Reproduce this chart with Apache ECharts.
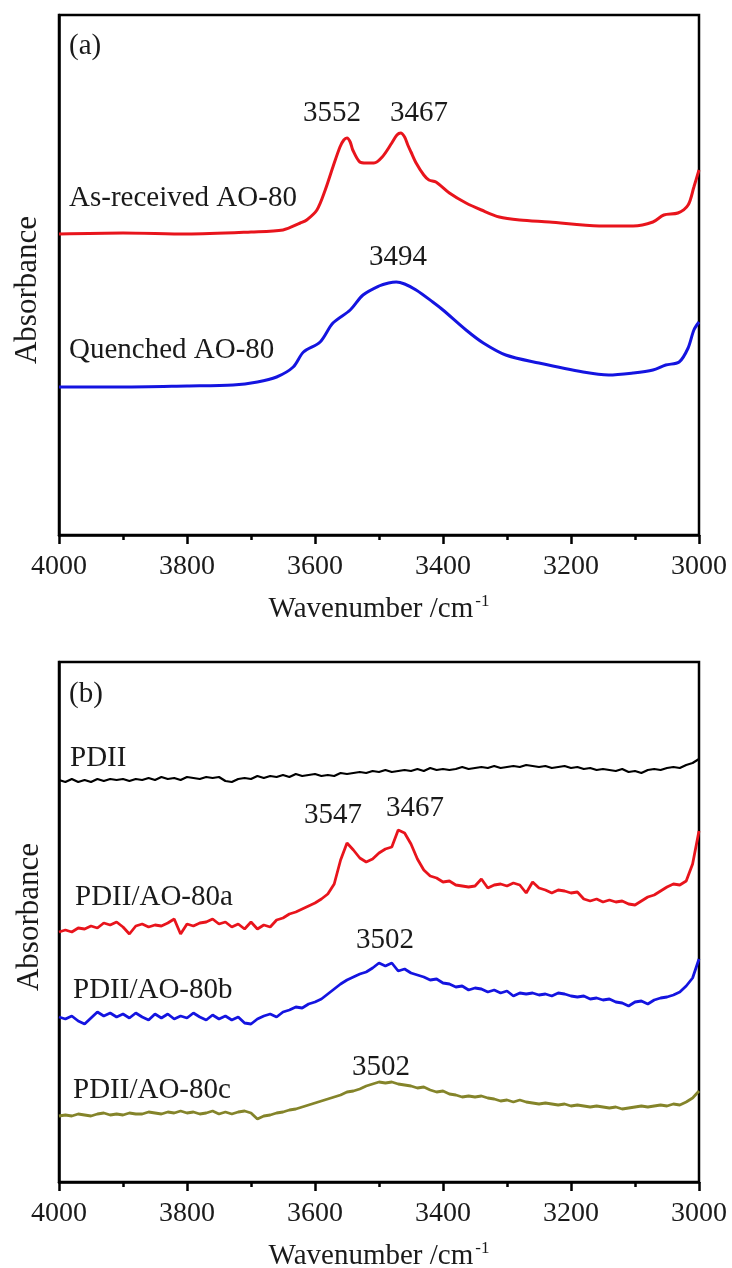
<!DOCTYPE html>
<html><head><meta charset="utf-8">
<script src="https://cdn.jsdelivr.net/npm/echarts@6/dist/echarts.min.js"></script>
<style>html,body{margin:0;padding:0;background:#fff}#c{width:732px;height:1268px}</style>
</head><body><div id="c"></div>
<script>
// ---------- Panel (a) data: [wavenumber cm-1, absorbance a.u.] ----------
const asReceivedWn = [4000,3900,3800,3700,3650,3623,3613,3597,3584,3572,3561,3555,3550,3545,3541,3530,3520,3508,3495,3480,3472,3466,3460,3455,3450,3442,3430,3422,3411,3390,3364,3340,3312,3280,3234,3156,3103,3072,3055,3033,3017,3008,3000];
const asReceivedAbs = [30.1,30.2,30.1,30.3,30.5,31.2,31.5,32.5,34.5,36.8,38.8,39.5,39.7,39.3,38.5,37.3,37.2,37.2,37.8,39.2,40.0,40.2,39.8,39.0,38.3,37.2,36.0,35.5,35.3,34.2,33.2,32.5,31.8,31.5,31.3,30.9,30.9,31.3,32.0,32.2,33.0,34.8,36.5];
const quenchedWn = [4000,3900,3800,3728,3690,3660,3634,3618,3592,3572,3545,3525,3500,3485,3473,3460,3442,3416,3400,3364,3337,3302,3250,3181,3141,3103,3072,3052,3031,3017,3008,3000];
const quenchedAbs = [14.8,14.8,14.9,15.0,15.3,15.8,16.8,18.3,19.3,21.2,22.5,24.0,24.9,25.2,25.3,25.1,24.5,23.3,22.5,20.5,19.2,18.0,17.2,16.3,16.0,16.2,16.5,17.0,17.3,18.7,20.5,21.3];

// ---------- Panel (b) data: sampled every 10 cm-1 from 4000 to 3000 ----------
const pdiiAbs = [40.2,40.0,40.3,40.0,40.2,40.0,40.3,40.1,40.3,40.2,
 40.3,40.1,40.3,40.2,40.4,40.2,40.5,40.3,40.4,40.2,
 40.5,40.4,40.3,40.5,40.4,40.5,40.1,40.0,40.3,40.4,
 40.3,40.6,40.4,40.6,40.5,40.7,40.5,40.8,40.6,40.7,
 40.8,40.6,40.7,40.6,40.9,40.8,40.9,41.0,40.9,41.1,
 41.0,41.2,41.0,41.1,41.2,41.1,41.3,41.1,41.4,41.2,
 41.3,41.2,41.3,41.5,41.3,41.4,41.5,41.4,41.6,41.4,
 41.5,41.6,41.5,41.7,41.6,41.5,41.6,41.4,41.5,41.6,
 41.4,41.5,41.3,41.4,41.2,41.3,41.2,41.1,41.3,41.0,
 41.1,40.9,41.2,41.3,41.2,41.4,41.5,41.4,41.7,41.9,
 42.3];
const ao80aAbs = [25.0,25.2,25.0,25.4,25.3,25.6,25.4,25.9,25.7,26.0,
 25.5,24.8,25.6,25.8,25.5,25.7,25.6,25.9,26.3,24.8,
 25.8,25.6,25.9,26.0,26.3,25.8,26.0,25.5,25.8,25.3,
 26.0,25.3,25.7,25.5,26.2,26.4,26.8,27.0,27.3,27.6,
 27.9,28.3,28.8,29.8,32.2,33.9,33.2,32.4,32.0,32.3,
 32.9,33.3,33.5,35.2,34.9,33.8,32.3,31.2,30.6,30.4,
 30.0,30.1,29.7,29.6,29.5,29.6,30.3,29.4,29.7,29.8,
 29.6,29.9,29.7,28.9,30.0,29.4,29.2,28.9,29.2,29.1,
 28.9,29.0,28.3,28.1,28.3,28.0,28.2,28.0,28.1,27.8,
 27.7,28.1,28.5,28.7,29.1,29.5,29.8,29.7,30.1,31.8,
 35.1];
const ao80bAbs = [16.5,16.3,16.6,16.1,15.8,16.4,17.0,16.6,16.9,16.5,
 16.8,16.4,16.9,16.5,16.2,16.8,16.4,16.8,16.3,16.6,
 16.4,16.9,16.5,16.2,16.7,16.3,16.6,16.2,16.5,15.9,
 15.8,16.3,16.6,16.8,16.5,17.0,17.2,17.5,17.4,17.8,
 18.0,18.3,18.8,19.3,19.8,20.2,20.5,20.8,21.0,21.4,
 21.9,21.6,21.9,21.1,21.3,20.9,20.7,20.5,20.2,20.3,
 19.9,19.8,19.5,19.6,19.2,19.4,19.3,19.0,19.2,18.9,
 19.1,18.6,18.9,18.8,18.9,18.7,18.8,18.6,18.9,18.8,
 18.6,18.5,18.6,18.3,18.4,18.2,18.3,18.0,17.9,17.6,
 18.0,18.1,17.8,18.2,18.4,18.5,18.7,19.0,19.6,20.4,
 22.3];
const ao80cAbs = [6.6,6.7,6.6,6.8,6.7,6.6,6.8,6.9,6.7,6.8,
 6.7,6.9,6.8,6.8,7.0,6.9,6.8,7.0,6.9,7.1,
 6.9,7.0,6.8,6.9,7.1,6.8,7.0,6.8,7.0,7.1,
 6.9,6.3,6.6,6.7,6.9,7.0,7.2,7.3,7.5,7.7,
 7.9,8.1,8.3,8.5,8.7,9.0,9.1,9.3,9.6,9.8,
 10.0,9.9,10.0,9.8,9.7,9.6,9.4,9.5,9.2,9.0,
 9.1,8.8,8.7,8.5,8.6,8.5,8.6,8.4,8.3,8.1,
 8.2,8.0,8.2,8.0,7.9,7.8,7.9,7.8,7.7,7.8,
 7.6,7.7,7.6,7.5,7.6,7.5,7.4,7.5,7.3,7.4,
 7.5,7.6,7.5,7.6,7.7,7.6,7.8,7.7,8.0,8.4,
 9.1];
const wnB = [];
for (let i = 0; i < pdiiAbs.length; i++) wnB.push(4000 - 10 * i);

const xTicks = [4000, 3800, 3600, 3400, 3200, 3000];

function pairs(xs, ys) { return xs.map((x, i) => [x, ys[i]]); }

const FONT = 'Liberation Serif, Times New Roman, serif';
const TXT = '#1a1a1a';

function xAx(gi) {
  return {
    gridIndex: gi, type: 'value', min: 3000, max: 4000, interval: 200, inverse: true,
    axisLine: { show: true, lineStyle: { color: '#000', width: 2.5 } },
    axisTick: { show: true, inside: false, length: 9, lineStyle: { color: '#000', width: 2.5 } },
    minorTick: { show: true, splitNumber: 2, length: 5, lineStyle: { color: '#000', width: 2.5 } },
    splitLine: { show: false },
    axisLabel: { fontFamily: FONT, fontSize: 28, color: TXT, margin: 18,
      formatter: v => xTicks.indexOf(v) >= 0 ? String(v) : '' },
    name: 'Wavenumber /cm{sup|-1}', nameLocation: 'middle', nameGap: 58,
    nameTextStyle: { fontFamily: FONT, fontSize: 29, color: TXT,
      rich: { sup: { fontFamily: FONT, fontSize: 17, color: TXT, verticalAlign: 'top', padding: [0, 0, 16, 2] } } }
  };
}
function yAx(gi) {
  return {
    gridIndex: gi, type: 'value', min: 0, max: 52,
    axisLine: { show: true, lineStyle: { color: '#000', width: 2.5 } },
    axisTick: { show: false }, axisLabel: { show: false }, splitLine: { show: false }
  };
}
function line(xi, data, color, w, smooth) {
  return { type: 'line', xAxisIndex: xi, yAxisIndex: xi, data: data, showSymbol: false, symbol: 'none',
    smooth: smooth || false,
    lineStyle: { color: color, width: w }, animation: false, z: 3 };
}
function txt(x, y, s, opts, rot) {
  const g = { type: 'text', x: x, y: y, style: Object.assign({ text: s, fontFamily: FONT, fontSize: 29, fill: TXT, textVerticalAlign: 'middle' }, opts || {}) };
  if (rot) g.rotation = rot;
  return g;
}

const RED = '#e8141c', BLUE = '#1414e0', OLIVE = '#84842a';

const chart = echarts.init(document.getElementById('c'), null, { renderer: 'canvas' });
chart.setOption({
  backgroundColor: '#fff',
  animation: false,
  grid: [
    { left: 59, top: 15, width: 640, height: 520, show: true, borderColor: '#000', borderWidth: 2.5, backgroundColor: 'transparent', containLabel: false, outerBoundsMode: 'none' },
    { left: 59, top: 662, width: 640, height: 520, show: true, borderColor: '#000', borderWidth: 2.5, backgroundColor: 'transparent', containLabel: false, outerBoundsMode: 'none' }
  ],
  xAxis: [xAx(0), xAx(1)],
  yAxis: [yAx(0), yAx(1)],
  series: [
    line(0, pairs(asReceivedWn, asReceivedAbs), RED, 3, 0.3),
    line(0, pairs(quenchedWn, quenchedAbs), BLUE, 3, 0.3),
    line(1, pairs(wnB, pdiiAbs), '#000', 2.2),
    line(1, pairs(wnB, ao80aAbs), RED, 2.8),
    line(1, pairs(wnB, ao80bAbs), BLUE, 2.8),
    line(1, pairs(wnB, ao80cAbs), OLIVE, 2.8)
  ],
  graphic: [
    txt(69, 46, '(a)'),
    txt(69, 198, 'As-received AO-80'),
    txt(69, 350, 'Quenched AO-80'),
    txt(332, 113, '3552', { textAlign: 'center' }),
    txt(419, 113, '3467', { textAlign: 'center' }),
    txt(398, 257, '3494', { textAlign: 'center' }),
    txt(28, 290, 'Absorbance', { textAlign: 'center', fontSize: 31 }, Math.PI / 2),
    txt(69, 694, '(b)'),
    txt(70, 758, 'PDII'),
    txt(75, 897, 'PDII/AO-80a'),
    txt(73, 990, 'PDII/AO-80b'),
    txt(73, 1090, 'PDII/AO-80c'),
    txt(333, 815, '3547', { textAlign: 'center' }),
    txt(415, 808, '3467', { textAlign: 'center' }),
    txt(385, 940, '3502', { textAlign: 'center' }),
    txt(381, 1067, '3502', { textAlign: 'center' }),
    txt(30, 917, 'Absorbance', { textAlign: 'center', fontSize: 31 }, Math.PI / 2)
  ]
});
</script>
</body></html>
